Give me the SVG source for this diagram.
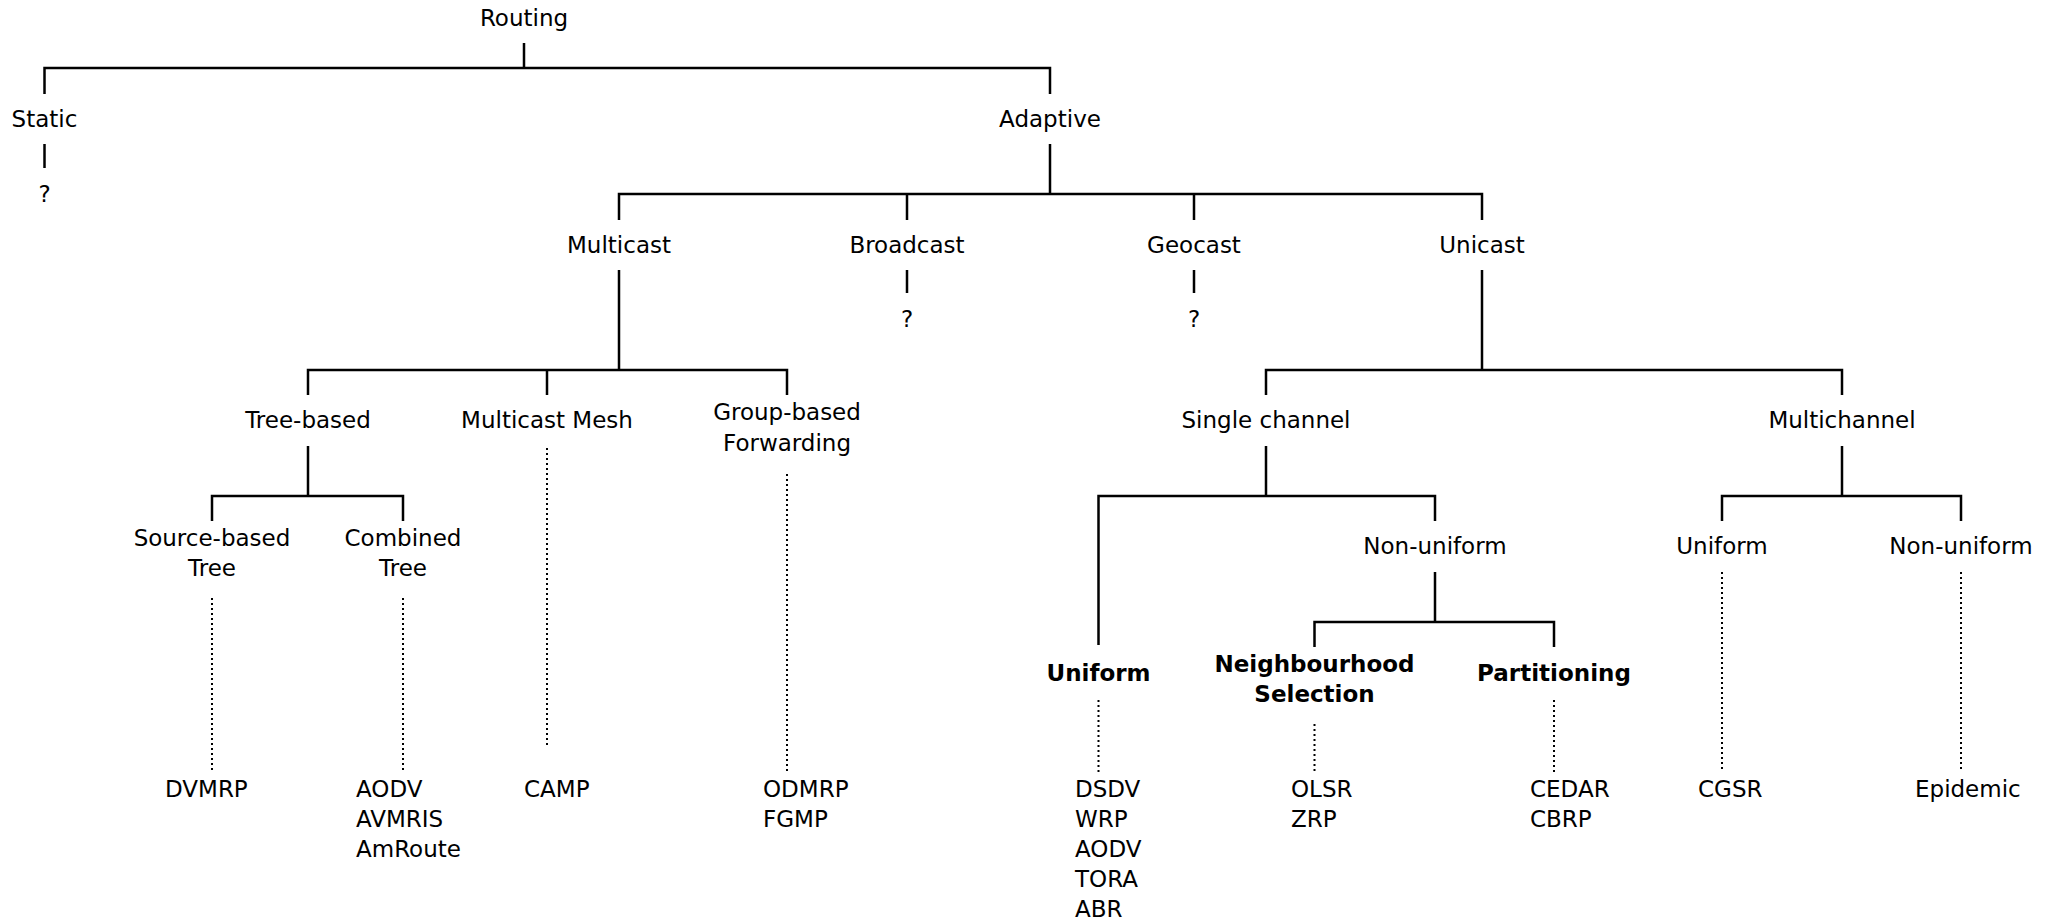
<svg xmlns="http://www.w3.org/2000/svg" width="2053" height="921" viewBox="0 0 2053 921">
<style>
text{font-family:"DejaVu Sans","Liberation Sans",sans-serif;font-size:23px;fill:#000}
.m{text-anchor:middle}
.b{font-weight:bold}
.s{stroke:#000;stroke-width:2.5;fill:none}
.d{stroke:#000;stroke-width:2;fill:none;stroke-dasharray:2 3}
</style>
<rect width="2053" height="921" fill="#fff"/>
<g id="connectors">
<path class="s" d="M524,43V68M44.5,94V68H1050V94"/>
<path class="s" d="M44.5,144V168"/>
<path class="s" d="M1050,144V194M619,220V194H1482V220M907,194V220M1194,194V220"/>
<path class="s" d="M907,270V293M1194,270V293"/>
<path class="s" d="M619,270V370M308,395V370H787V395M547,370V395"/>
<path class="s" d="M308,446V496M212,521V496H403V521"/>
<path class="s" d="M1482,270V370M1266,395V370H1842V395"/>
<path class="s" d="M1266,446V496M1098.5,645V496H1435V521"/>
<path class="s" d="M1435,572V622M1314.5,647V622H1554V647"/>
<path class="s" d="M1842,446V496M1722,521V496H1961V521"/>
<path class="d" d="M212,598V772M403,598V772M547,448V746M787,474V772"/>
<path class="d" d="M1098.5,700V772M1314.5,724V772M1554,700V772M1722,572V772M1961,572V772"/>
</g>
<g id="routing"><text class="m" x="524" y="26">Routing</text></g>
<g id="static"><text class="m" x="44.5" y="127">Static</text></g>
<g id="static-q"><text class="m" x="44.5" y="202">?</text></g>
<g id="adaptive"><text class="m" x="1050" y="127">Adaptive</text></g>
<g id="multicast"><text class="m" x="619" y="253">Multicast</text></g>
<g id="broadcast"><text class="m" x="907" y="253">Broadcast</text></g>
<g id="broadcast-q"><text class="m" x="907" y="327">?</text></g>
<g id="geocast"><text class="m" x="1194" y="253">Geocast</text></g>
<g id="geocast-q"><text class="m" x="1194" y="327">?</text></g>
<g id="unicast"><text class="m" x="1482" y="253">Unicast</text></g>
<g id="tree-based"><text class="m" x="308" y="428">Tree-based</text></g>
<g id="multicast-mesh"><text class="m" x="547" y="428">Multicast Mesh</text></g>
<g id="group-based"><text class="m" x="787" y="420">Group-based</text><text class="m" x="787" y="451">Forwarding</text></g>
<g id="source-based"><text class="m" x="212" y="546">Source-based</text><text class="m" x="212" y="576">Tree</text></g>
<g id="combined"><text class="m" x="403" y="546">Combined</text><text class="m" x="403" y="576">Tree</text></g>
<g id="dvmrp"><text x="165" y="797">DVMRP</text></g>
<g id="combined-leaves"><text x="356" y="797">AODV</text><text x="356" y="827">AVMRIS</text><text x="356" y="857">AmRoute</text></g>
<g id="camp"><text x="524" y="797">CAMP</text></g>
<g id="gbf-leaves"><text x="763" y="797">ODMRP</text><text x="763" y="827">FGMP</text></g>
<g id="single-channel"><text class="m" x="1266" y="428">Single channel</text></g>
<g id="multichannel"><text class="m" x="1842" y="428">Multichannel</text></g>
<g id="sc-nonuniform"><text class="m" x="1435" y="554">Non-uniform</text></g>
<g id="sc-uniform"><text class="m b" x="1098.5" y="681">Uniform</text></g>
<g id="neighbourhood"><text class="m b" x="1314.5" y="672">Neighbourhood</text><text class="m b" x="1314.5" y="702">Selection</text></g>
<g id="partitioning"><text class="m b" x="1554" y="681">Partitioning</text></g>
<g id="mc-uniform"><text class="m" x="1722" y="554">Uniform</text></g>
<g id="mc-nonuniform"><text class="m" x="1961" y="554">Non-uniform</text></g>
<g id="uniform-leaves"><text x="1075" y="797">DSDV</text><text x="1075" y="827">WRP</text><text x="1075" y="857">AODV</text><text x="1075" y="887">TORA</text><text x="1075" y="917">ABR</text></g>
<g id="ns-leaves"><text x="1291" y="797">OLSR</text><text x="1291" y="827">ZRP</text></g>
<g id="part-leaves"><text x="1530" y="797">CEDAR</text><text x="1530" y="827">CBRP</text></g>
<g id="cgsr"><text x="1698" y="797">CGSR</text></g>
<g id="epidemic"><text x="1915" y="797">Epidemic</text></g>
</svg>
